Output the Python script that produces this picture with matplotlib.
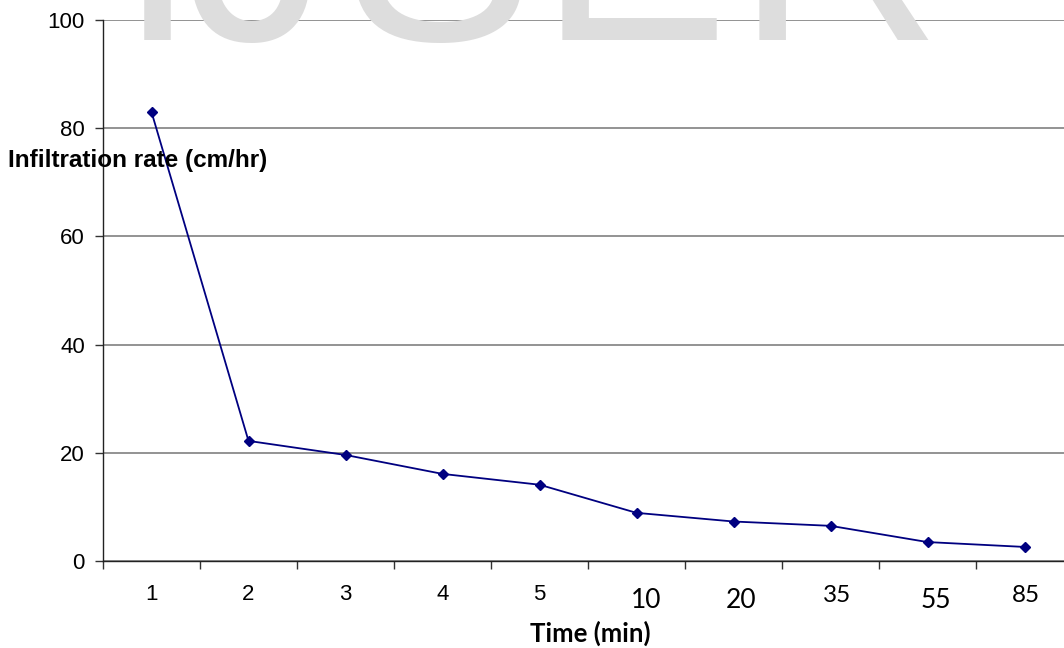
import matplotlib
matplotlib.use('Agg')
import matplotlib.pyplot as plt

# data
time_labels = ['1', '2', '3', '4', '5', '10', '20', '35', '55', '85']
rate = [83, 22.2, 19.6, 16.1, 14.1, 8.9, 7.3, 6.5, 3.5, 2.6]

# label quirks of the original (pasted from a mixed font chart)
lab_font = ['Liberation Sans'] * 5 + ['Lato', 'Lato', 'Lato', 'Lato', 'Lato']
lab_size = [16] * 5 + [19, 19, 17.5, 19, 17.5]
lab_dx = [0, 0, 0, 0, 0, 10, 8, 7, 8, 1]
lab_dy = [-33, -33, -33, -33, -33, -40, -40, -34, -40, -34]

fig = plt.figure(figsize=(10.64, 6.48), dpi=100)

# watermark
wm_letters = ['I', 'J', 'S', 'E', 'R']
wm_x = [157, 259, 438, 634, 838]
for ch, px in zip(wm_letters, wm_x):
    fig.text(px / 1064, 1 - 40 / 648, ch, ha='center', va='baseline',
             fontsize=205, color='#dddddd', family='Liberation Sans', zorder=0)

ax = fig.add_axes([103 / 1064, 87 / 648, 970 / 1064, 541 / 648])
ax.patch.set_alpha(0)

x = list(range(len(rate)))
ax.plot(x, rate, color='#000080', lw=1.3, marker='D', ms=5, zorder=3)

ax.set_xlim(-0.5, len(rate) - 0.5)
ax.set_ylim(0, 100)
ax.set_yticks([0, 20, 40, 60, 80, 100])
ax.set_yticklabels(['0', '20', '40', '60', '80', '100'], family='Liberation Sans', fontsize=16)
ax.yaxis.grid(True, color='#808080', lw=1.2)
ax.set_axisbelow(True)

ax.set_xticks([i - 0.5 for i in range(len(rate) + 1)])
ax.set_xticklabels([])
ax.tick_params(axis='x', direction='out', length=6, width=1, color='#333333')
ax.tick_params(axis='y', direction='out', length=6, width=1, color='#333333', pad=7)

for s in ['top', 'right']:
    ax.spines[s].set_visible(False)
for s in ['left', 'bottom']:
    ax.spines[s].set_color('#222222')
    ax.spines[s].set_linewidth(1)

for i, lab in enumerate(time_labels):
    ax.annotate(lab, xy=(i, 0), xycoords=('data', 'axes fraction'),
                xytext=(lab_dx[i], lab_dy[i]), textcoords='offset pixels',
                ha='center', va='center', family=lab_font[i], fontsize=lab_size[i])

fig.text(8 / 1064, 1 - 161 / 648, 'Infiltration rate (cm/hr)', ha='left', va='center',
         fontsize=17.5, fontweight='bold', family='Liberation Sans')
fig.text(590 / 1064, 1 - 633 / 648, 'Time (min)', ha='center', va='center',
         fontsize=18.5, fontweight='bold', family='Lato')

fig.savefig('out.png', dpi=100)
